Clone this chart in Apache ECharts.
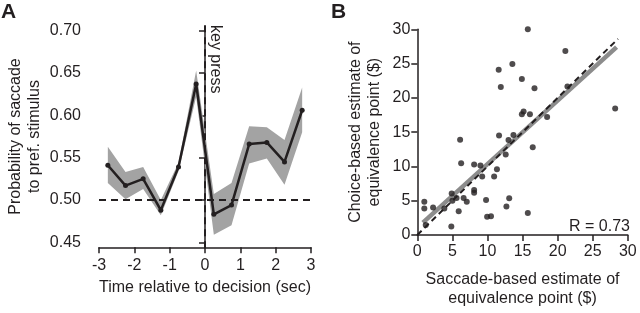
<!DOCTYPE html>
<html>
<head>
<meta charset="utf-8">
<script src="https://cdn.jsdelivr.net/npm/echarts@6/dist/echarts.min.js"></script>
<style>
  html, body { margin: 0; padding: 0; background: #fff; }
  #chart { width: 640px; height: 313px; }
</style>
</head>
<body>
<div id="chart"></div>
<script>
// ---- Panel A data ----
const timeBins  = [-2.75, -2.25, -1.75, -1.25, -0.75, -0.25, 0.25, 0.75, 1.25, 1.75, 2.25, 2.75];
const probMean  = [0.541, 0.517, 0.525, 0.488, 0.539, 0.637, 0.483, 0.494, 0.566, 0.568, 0.545, 0.606];
const probUpper = [0.563, 0.533, 0.539, 0.500, 0.544, 0.653, 0.507, 0.520, 0.587, 0.586, 0.571, 0.633];
const probLower = [0.520, 0.501, 0.513, 0.482, 0.534, 0.622, 0.459, 0.470, 0.543, 0.549, 0.518, 0.580];
const chanceLevel = 0.5;
const keyPressTime = 0;
const keyPressSpan = [0.443, 0.707];
const timeTicks = [-3, 3, 1];
const probTicks = [0.45, 0.70, 0.05];

// ---- Panel B data ----
const saccadeEst = [1.0, 1.0, 1.2, 2.25, 3.85, 4.85, 4.9, 5.0, 5.6, 5.9, 6.1, 6.25, 6.6, 7.05, 8.1, 8.1, 8.1, 9.0, 9.25, 9.8, 9.95, 10.5, 10.95, 11.35, 11.6, 11.65, 11.9, 12.6, 12.7, 13.0, 13.1, 13.55, 13.7, 14.9, 14.9, 15.15, 15.75, 15.75, 16.05, 16.45, 16.7, 18.5, 21.1, 21.4, 28.2];
const choiceEst  = [4.85, 3.85, 1.45, 4.0, 3.85, 1.25, 6.05, 5.0, 5.4, 3.45, 13.9, 10.45, 5.4, 4.85, 10.3, 6.55, 6.15, 10.15, 8.55, 5.1, 2.65, 2.75, 8.55, 9.6, 24.1, 14.5, 21.6, 11.75, 4.15, 13.85, 5.35, 24.95, 14.6, 22.75, 17.6, 18.0, 30.0, 3.2, 17.6, 12.8, 21.4, 17.2, 26.85, 21.65, 18.45];
const identityLine = [[0, 0], [28.6, 28.6]];
const fitLine = [[0.8, 1.8], [28.4, 27.4]];
const rText = 'R = 0.73';
const estTicks = [0, 30, 5];

const FONT = '"Liberation Sans", Arial, sans-serif';
const INK = '#231f20';

const chart = echarts.init(document.getElementById('chart'), null, { renderer: 'canvas' });

const axisCommon = {
  axisLine: { show: true, lineStyle: { color: INK, width: 1.5 } },
  axisTick: { show: true, inside: false, length: 6, lineStyle: { color: INK, width: 1.5 } },
  splitLine: { show: false },
  nameTextStyle: { color: INK, fontFamily: FONT, fontSize: 16, lineHeight: 19 },
};

const option = {
  animation: false,
  backgroundColor: '#fff',
  grid: [
    { left: 99, top: 30.7, width: 212, height: 211.6, containLabel: false },
    { left: 417.3, top: 29.3, width: 210.5, height: 211, containLabel: false }
  ],
  xAxis: [
    Object.assign({}, axisCommon, {
      type: 'value', gridIndex: 0, min: timeTicks[0], max: timeTicks[1], interval: timeTicks[2],
      offset: 5,
      axisLabel: { color: INK, fontFamily: FONT, fontSize: 16, margin: 10 },
      name: 'Time relative to decision (sec)', nameLocation: 'middle', nameGap: 26
    }),
    Object.assign({}, axisCommon, {
      type: 'value', gridIndex: 1, min: estTicks[0], max: estTicks[1], interval: estTicks[2],
      axisLabel: { color: INK, fontFamily: FONT, fontSize: 16, margin: 9 },
      name: 'Saccade-based estimate of\nequivalence point ($)', nameLocation: 'middle', nameGap: 35
    })
  ],
  yAxis: [
    Object.assign({}, axisCommon, {
      type: 'value', gridIndex: 0, min: probTicks[0], max: probTicks[1], interval: probTicks[2],
      offset: 8,
      axisLabel: { color: INK, fontFamily: FONT, fontSize: 16, margin: 10, formatter: v => v.toFixed(2) },
      name: 'Probability of saccade\nto pref. stimulus', nameLocation: 'middle', nameRotate: 90, nameGap: 47
    }),
    Object.assign({}, axisCommon, {
      type: 'value', gridIndex: 1, min: estTicks[0], max: estTicks[1], interval: estTicks[2],
      axisLabel: { color: INK, fontFamily: FONT, fontSize: 16, margin: 7 },
      name: 'Choice-based estimate of\nequivalence point ($)', nameLocation: 'middle', nameRotate: 90, nameGap: 33
    })
  ],
  graphic: [
    { type: 'text', left: 1, top: 2, style: { text: 'A', font: 'bold 21px ' + FONT, fill: INK } },
    { type: 'text', left: 331, top: 2, style: { text: 'B', font: 'bold 21px ' + FONT, fill: INK } },
    { type: 'text', x: 215, y: 25, rotation: -Math.PI / 2,
      style: { text: 'key press', font: '16px ' + FONT, fill: INK, align: 'left', verticalAlign: 'middle' } },
    { type: 'text', right: 10, top: 219, style: { text: rText, font: '16px ' + FONT, fill: INK, align: 'right' } }
  ],
  series: [
    {
      type: 'custom', xAxisIndex: 0, yAxisIndex: 0, z: 1,
      data: timeBins.map((t, i) => [t, probLower[i], probUpper[i]]),
      encode: { x: 0, y: [1, 2] },
      renderItem: function (params, api) {
        if (params.dataIndex !== 0) return null;
        const pts = [];
        for (let i = 0; i < timeBins.length; i++) pts.push(api.coord([timeBins[i], probUpper[i]]));
        for (let i = timeBins.length - 1; i >= 0; i--) pts.push(api.coord([timeBins[i], probLower[i]]));
        return { type: 'polygon', shape: { points: pts }, style: { fill: '#a3a3a3' } };
      }
    },
    {
      type: 'line', xAxisIndex: 0, yAxisIndex: 0, z: 3,
      data: timeTicks.slice(0, 2).map(t => [t, chanceLevel]),
      symbol: 'none', silent: true,
      lineStyle: { color: INK, width: 2, type: [7, 5] }
    },
    {
      type: 'line', xAxisIndex: 0, yAxisIndex: 0, z: 3, clip: false,
      data: keyPressSpan.map(v => [keyPressTime, v]),
      symbol: 'none', silent: true,
      lineStyle: { color: INK, width: 2, type: [7, 5] }
    },
    {
      type: 'line', xAxisIndex: 0, yAxisIndex: 0, z: 4,
      data: timeBins.map((t, i) => [t, probMean[i]]),
      symbol: 'circle', symbolSize: 5,
      itemStyle: { color: INK },
      lineStyle: { color: INK, width: 2.5 }
    },
    {
      type: 'line', xAxisIndex: 1, yAxisIndex: 1, z: 2,
      data: fitLine, symbol: 'none', silent: true,
      lineStyle: { color: '#8c8c8c', width: 4.5 }
    },
    {
      type: 'line', xAxisIndex: 1, yAxisIndex: 1, z: 3,
      data: identityLine, symbol: 'none', silent: true,
      lineStyle: { color: INK, width: 2, type: [6, 4] }
    },
    {
      type: 'scatter', xAxisIndex: 1, yAxisIndex: 1, z: 5,
      data: saccadeEst.map((x, i) => [x, choiceEst[i]]),
      symbol: 'circle', symbolSize: 6,
      itemStyle: { color: INK }
    }
  ]
};

chart.setOption(option);
</script>
</body>
</html>
